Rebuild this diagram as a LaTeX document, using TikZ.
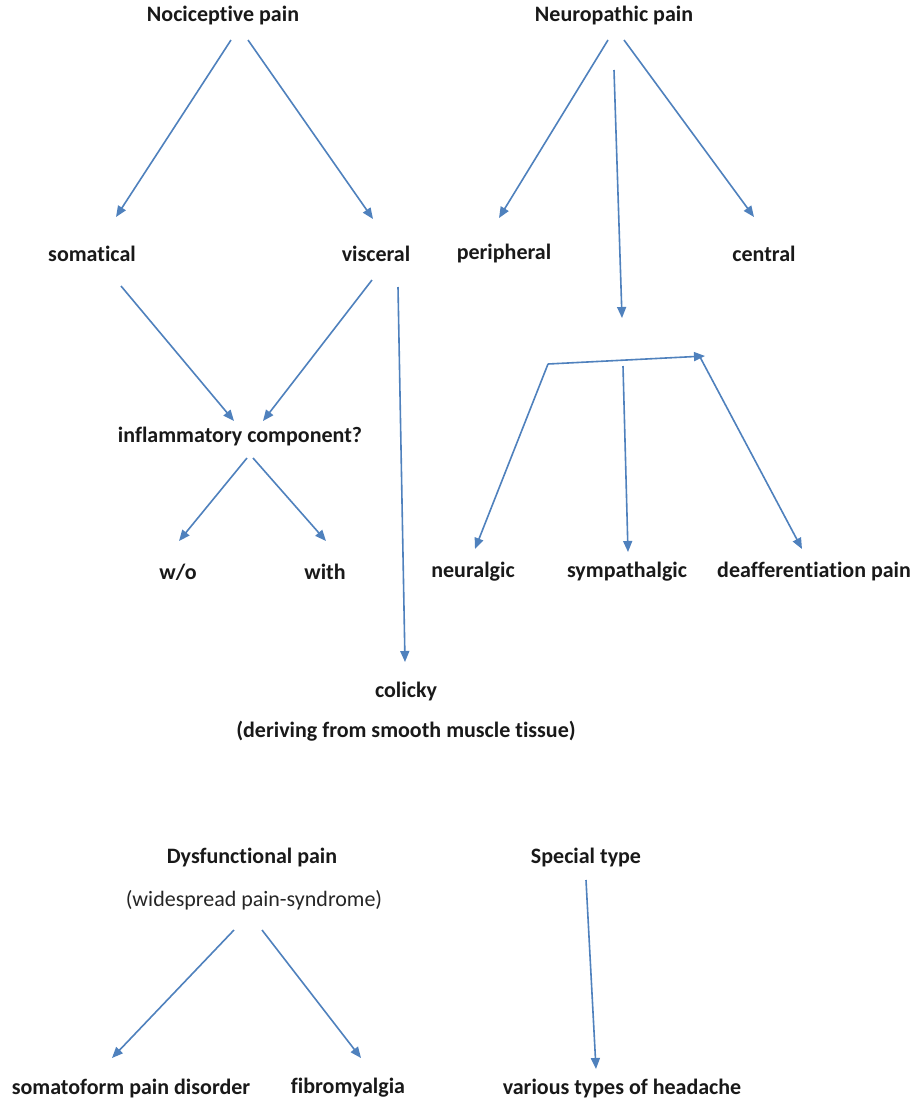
\documentclass[tikz,border=0pt]{standalone}
\usepackage{fontspec}
\setmainfont[Ligatures={NoCommon}]{Carlito}
\usetikzlibrary{arrows.meta}
\begin{document}
\begin{tikzpicture}[x=1pt,y=-1pt,
  lbl/.style={font=\fontsize{22}{26}\selectfont\bfseries, inner sep=0pt, text=black!90},
  lblreg/.style={font=\fontsize{22}{26}\selectfont, inner sep=0pt, text=black!85},
  conn/.style={draw=linkblue, line width=1.6pt, -{Triangle[length=11pt,width=9pt]}}]
\definecolor{linkblue}{RGB}{79,129,189}
\useasboundingbox[fill=white] (0,0) rectangle (915,1109);

% category headings
\node[lbl] (noc) at (223,16) {Nociceptive pain};
\node[lbl] (neu) at (614,16) {Neuropathic pain};
\node[lbl] (dys) at (252,857) {Dysfunctional pain};
\node[lblreg] (dysnote) at (254,900) {(widespread pain-syndrome)};
\node[lbl] (spec) at (586,857) {Special type};

% second level
\node[lbl] (som) at (92,254) {somatical};
\node[lbl] (vis) at (376,254) {visceral};
\node[lbl] (per) at (504,254) {peripheral};
\node[lbl] (cen) at (764,254) {central};
\node[lbl] (inf) at (240,437) {inflammatory component?};
\node[lbl] (wo) at (178,572) {w/o};
\node[lbl] (wi) at (325,572) {with};
\node[lbl] (neur) at (473,572) {neuralgic};
\node[lbl] (sym) at (627,572) {sympathalgic};
\node[lbl, anchor=west] (dea) at (717,572) {deafferentiation pain};
\node[lbl] (col) at (406,692) {colicky};
\node[lbl] (colnote) at (406,731) {(deriving from smooth muscle tissue)};
\node[lbl] (soma) at (131,1088) {somatoform pain disorder};
\node[lbl] (fib) at (348,1088) {fibromyalgia};
\node[lbl] (head) at (622,1088) {various types of headache};

% connector end points
\coordinate (noc-l) at (231,40);  \coordinate (som-t) at (116,217);
\coordinate (noc-r) at (248,40);  \coordinate (vis-t) at (373,219);
\coordinate (neu-l) at (608,40);  \coordinate (per-t) at (499,218);
\coordinate (neu-r) at (624,40);  \coordinate (cen-t) at (754,217);
\coordinate (neu-m) at (614,70);  \coordinate (br-t) at (622,318);
\coordinate (som-b) at (121,286); \coordinate (inf-l) at (234,421);
\coordinate (vis-b) at (372,280); \coordinate (inf-r) at (263,421);
\coordinate (vis-v) at (398,287); \coordinate (col-t) at (405,662);
\coordinate (inf-bl) at (247,458); \coordinate (wo-t) at (179,541);
\coordinate (inf-br) at (253,458); \coordinate (wi-t) at (326,541);
\coordinate (br-l) at (548,364);  \coordinate (br-r) at (705,356);
\coordinate (br-m) at (623,366);  \coordinate (br-rd) at (700,357);
\coordinate (neur-t) at (475,549); \coordinate (sym-t) at (628,552);
\coordinate (dea-t) at (802,549);
\coordinate (dys-l) at (234,930); \coordinate (soma-t) at (112,1058);
\coordinate (dys-r) at (262,930); \coordinate (fib-t) at (361,1058);
\coordinate (spec-b) at (586,880); \coordinate (head-t) at (596,1069);

% nociceptive branch
\draw[conn] (noc-l) -- (som-t);
\draw[conn] (noc-r) -- (vis-t);
\draw[conn] (som-b) -- (inf-l);
\draw[conn] (vis-b) -- (inf-r);
\draw[conn] (vis-v) -- (col-t);
\draw[conn] (inf-bl) -- (wo-t);
\draw[conn] (inf-br) -- (wi-t);

% neuropathic branch
\draw[conn] (neu-l) -- (per-t);
\draw[conn] (neu-r) -- (cen-t);
\draw[conn] (neu-m) -- (br-t);
\draw[conn] (br-l) -- (br-r);
\draw[conn] (br-l) -- (neur-t);
\draw[conn] (br-m) -- (sym-t);
\draw[conn] (br-rd) -- (dea-t);

% dysfunctional and special types
\draw[conn] (dys-l) -- (soma-t);
\draw[conn] (dys-r) -- (fib-t);
\draw[conn] (spec-b) -- (head-t);
\end{tikzpicture}
\end{document}
